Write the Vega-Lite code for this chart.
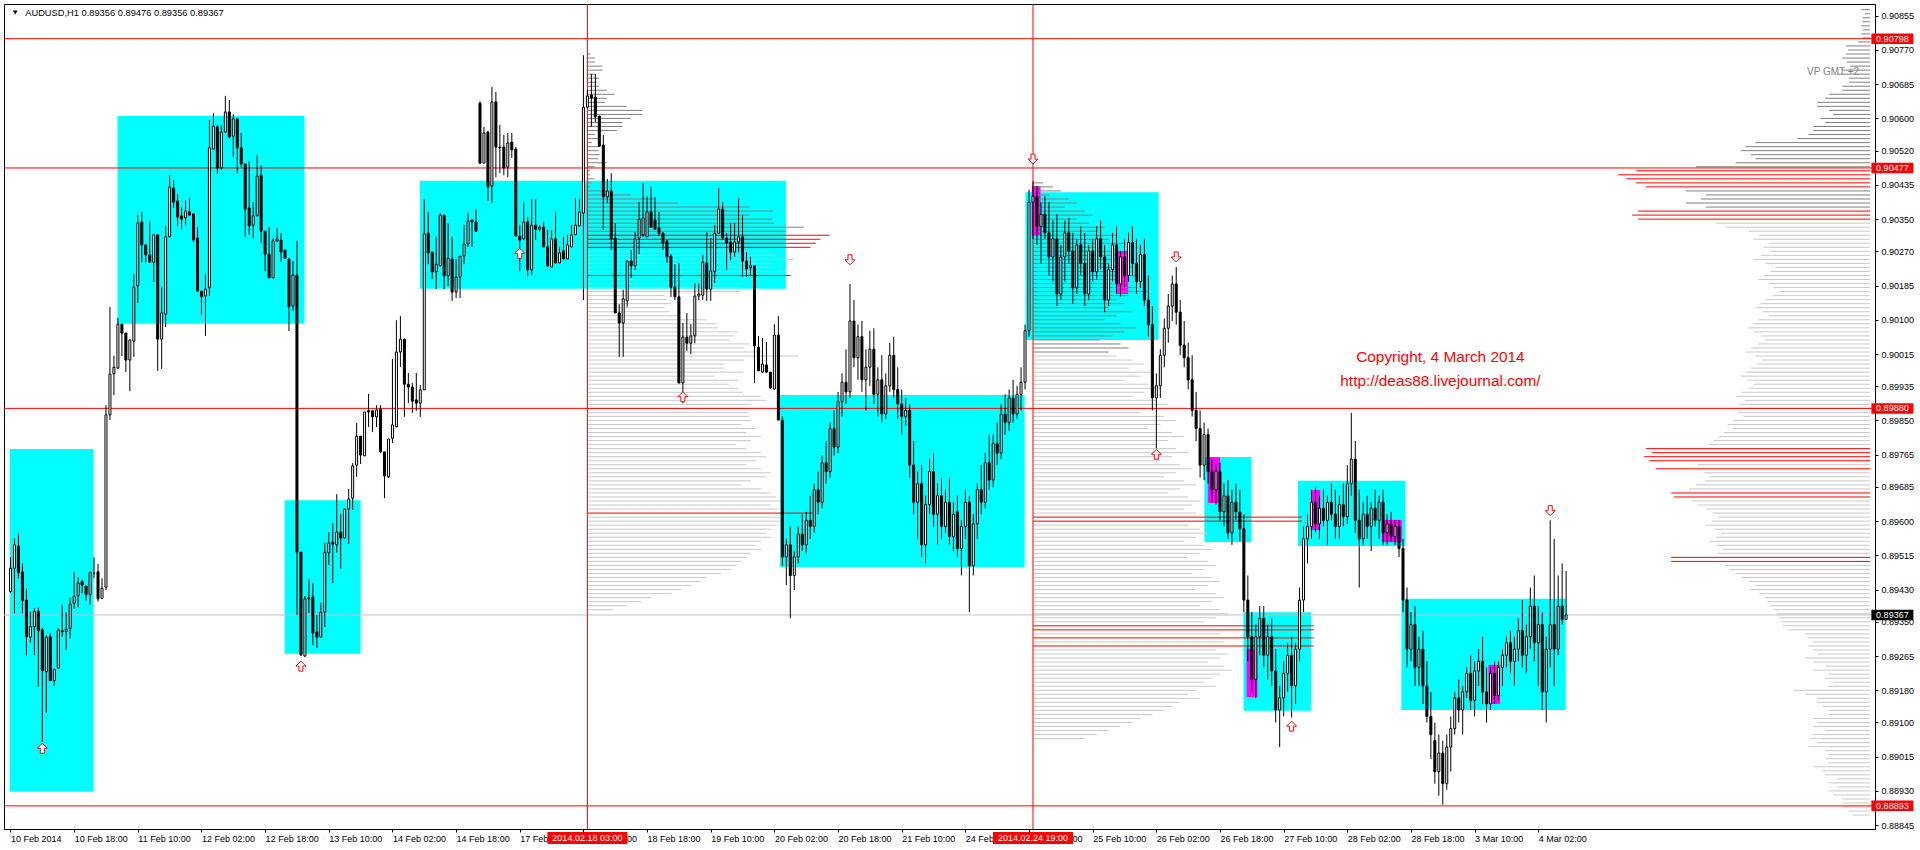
{
"$schema": "https://vega.github.io/schema/vega-lite/v6.json",
"width": 1871, "height": 825,
"autosize": {"type": "none"},
"padding": {"left": 4, "top": 4, "right": 45, "bottom": 21},
"background": "#ffffff",
"resolve": {"axis": {"x": "independent", "y": "independent"}},
"config": {
  "view": {"stroke": "#000000", "strokeWidth": 1},
  "axis": {"grid": false, "labelFont": "Liberation Sans", "labelFontSize": 9, "labelColor": "#000000", "domainColor": "#000000", "tickColor": "#000000", "tickSize": 3, "domainWidth": 1, "tickWidth": 1},
  "text": {"font": "Liberation Sans"}
},
"datasets": {
"boxes": [
{"x1":-0.2,"x2":20.9,"p1":0.89779,"p2":0.88928,"c":"#00FFFF"},
{"x1":26.9,"x2":73.9,"p1":0.90606,"p2":0.9009,"c":"#00FFFF"},
{"x1":68.9,"x2":88.0,"p1":0.89652,"p2":0.89271,"c":"#00FFFF"},
{"x1":102.9,"x2":194.9,"p1":0.90445,"p2":0.90177,"c":"#00FFFF"},
{"x1":193.4,"x2":254.9,"p1":0.89913,"p2":0.89486,"c":"#00FFFF"},
{"x1":255.1,"x2":288.6,"p1":0.90417,"p2":0.9005,"c":"#00FFFF"},
{"x1":300.1,"x2":311.9,"p1":0.89759,"p2":0.89548,"c":"#00FFFF"},
{"x1":323.6,"x2":350.6,"p1":0.897,"p2":0.89538,"c":"#00FFFF"},
{"x1":309.9,"x2":326.9,"p1":0.89374,"p2":0.89129,"c":"#00FFFF"},
{"x1":349.6,"x2":390.9,"p1":0.89407,"p2":0.89131,"c":"#00FFFF"},
{"x1":256.7,"x2":258.9,"p1":0.90432,"p2":0.9031,"c":"#FF00FF"},
{"x1":278.2,"x2":280.9,"p1":0.90271,"p2":0.90164,"c":"#FF00FF"},
{"x1":301.0,"x2":304.0,"p1":0.89759,"p2":0.89645,"c":"#FF00FF"},
{"x1":327.0,"x2":329.2,"p1":0.89677,"p2":0.89578,"c":"#FF00FF"},
{"x1":344.7,"x2":349.7,"p1":0.89603,"p2":0.89548,"c":"#FF00FF"},
{"x1":310.7,"x2":313.4,"p1":0.89283,"p2":0.89163,"c":"#FF00FF"},
{"x1":371.5,"x2":374.4,"p1":0.89243,"p2":0.89146,"c":"#FF00FF"}
],
"vp1": [
{"p":0.9076,"e":145.8,"k":"d"},{"p":0.9075,"e":146.9,"k":"d"},{"p":0.9074,"e":146.9,"k":"d"},{"p":0.9073,"e":148.8,"k":"d"},{"p":0.9072,"e":148.8,"k":"d"},
{"p":0.9071,"e":146.9,"k":"d"},{"p":0.907,"e":147.9,"k":"d"},{"p":0.9069,"e":147.4,"k":"d"},{"p":0.9068,"e":147.9,"k":"d"},{"p":0.9067,"e":149.9,"k":"d"},
{"p":0.9066,"e":151.8,"k":"d"},{"p":0.9065,"e":149.9,"k":"d"},{"p":0.9064,"e":149.4,"k":"d"},{"p":0.9063,"e":154.9,"k":"d"},{"p":0.9062,"e":158.8,"k":"d"},
{"p":0.9061,"e":158.8,"k":"d"},{"p":0.906,"e":155.9,"k":"d"},{"p":0.9059,"e":153.8,"k":"d"},{"p":0.9058,"e":153.8,"k":"d"},{"p":0.9057,"e":152.4,"k":"d"},
{"p":0.9056,"e":146.9,"k":"d"},{"p":0.9055,"e":147.8,"k":"d"},{"p":0.9054,"e":146.1,"k":"d"},{"p":0.9053,"e":148.1,"k":"d"},{"p":0.9052,"e":147.8,"k":"d"},
{"p":0.9051,"e":148.1,"k":"d"},{"p":0.905,"e":147.8,"k":"d"},{"p":0.9049,"e":149.9,"k":"d"},{"p":0.9048,"e":146.8,"k":"d"},{"p":0.9047,"e":145.7,"k":"d"},
{"p":0.9046,"e":145.7,"k":"d"},{"p":0.9045,"e":146.8,"k":"d"},{"p":0.9044,"e":146.1,"k":"d"},{"p":0.9043,"e":145.7,"k":"d"},{"p":0.9042,"e":149.9,"k":"d"},
{"p":0.9041,"e":155.9,"k":"d"},{"p":0.904,"e":161.8,"k":"d"},{"p":0.9039,"e":167.8,"k":"d"},{"p":0.9038,"e":185.7,"k":"d"},{"p":0.9037,"e":191.6,"k":"d"},
{"p":0.9036,"e":185.7,"k":"d"},{"p":0.9035,"e":191.6,"k":"d"},{"p":0.9034,"e":191.8,"k":"d"},{"p":0.9033,"e":199.4,"k":"d"},{"p":0.9032,"e":194.9,"k":"d"},
{"p":0.9031,"e":205.9,"k":"r"},{"p":0.903,"e":203.6,"k":"r"},{"p":0.9029,"e":202.4,"k":"r"},{"p":0.9028,"e":201.1,"k":"r"},{"p":0.9027,"e":190.6,"k":"l"},
{"p":0.9026,"e":192.8,"k":"l"},{"p":0.9025,"e":196.9,"k":"l"},{"p":0.9024,"e":191.9,"k":"l"},{"p":0.9023,"e":193.6,"k":"l"},{"p":0.9022,"e":194.9,"k":"l"},
{"p":0.9021,"e":196.1,"k":"r"},{"p":0.902,"e":194.9,"k":"l"},{"p":0.9019,"e":183.6,"k":"l"},{"p":0.9018,"e":183.6,"k":"l"},{"p":0.9017,"e":183.6,"k":"l"},
{"p":0.9016,"e":164.4,"k":"l"},{"p":0.9015,"e":164.9,"k":"l"},{"p":0.9014,"e":166.1,"k":"l"},{"p":0.9013,"e":164.4,"k":"l"},{"p":0.9012,"e":165.6,"k":"l"},
{"p":0.9011,"e":167.8,"k":"l"},{"p":0.901,"e":174.9,"k":"l"},{"p":0.9009,"e":177.4,"k":"l"},{"p":0.9008,"e":177.8,"k":"l"},{"p":0.9007,"e":182.8,"k":"l"},
{"p":0.9006,"e":181.9,"k":"l"},{"p":0.9005,"e":180.6,"k":"l"},{"p":0.9004,"e":185.7,"k":"l"},{"p":0.9003,"e":184.4,"k":"l"},{"p":0.9002,"e":188.6,"k":"l"},
{"p":0.9001,"e":198.1,"k":"l"},{"p":0.9,"e":184.4,"k":"l"},{"p":0.8999,"e":179.4,"k":"l"},{"p":0.8998,"e":179.4,"k":"l"},{"p":0.8997,"e":184.1,"k":"l"},
{"p":0.8996,"e":176.9,"k":"l"},{"p":0.8995,"e":182.9,"k":"l"},{"p":0.8994,"e":180.6,"k":"l"},{"p":0.8993,"e":182.9,"k":"l"},{"p":0.8992,"e":184.1,"k":"l"},
{"p":0.8991,"e":188.6,"k":"l"},{"p":0.899,"e":189.9,"k":"l"},{"p":0.8989,"e":186.1,"k":"l"},{"p":0.8988,"e":184.9,"k":"l"},{"p":0.8987,"e":185.6,"k":"l"},
{"p":0.8986,"e":185.6,"k":"l"},{"p":0.8985,"e":186.1,"k":"l"},{"p":0.8984,"e":183.6,"k":"l"},{"p":0.8983,"e":187.4,"k":"l"},{"p":0.8982,"e":184.9,"k":"l"},
{"p":0.8981,"e":188.6,"k":"l"},{"p":0.898,"e":186.1,"k":"l"},{"p":0.8979,"e":182.4,"k":"l"},{"p":0.8978,"e":184.9,"k":"l"},{"p":0.8977,"e":188.6,"k":"l"},
{"p":0.8976,"e":189.9,"k":"l"},{"p":0.8975,"e":187.4,"k":"l"},{"p":0.8974,"e":184.9,"k":"l"},{"p":0.8973,"e":188.6,"k":"l"},{"p":0.8972,"e":191.1,"k":"l"},
{"p":0.8971,"e":189.9,"k":"l"},{"p":0.897,"e":186.1,"k":"l"},{"p":0.8969,"e":183.6,"k":"l"},{"p":0.8968,"e":188.6,"k":"l"},{"p":0.8967,"e":191.1,"k":"l"},
{"p":0.8966,"e":192.4,"k":"l"},{"p":0.8965,"e":193.6,"k":"l"},{"p":0.8964,"e":191.1,"k":"l"},{"p":0.8963,"e":193.1,"k":"l"},{"p":0.8962,"e":201.6,"k":"r"},
{"p":0.8961,"e":194.6,"k":"l"},{"p":0.896,"e":193.6,"k":"l"},{"p":0.8959,"e":192.4,"k":"l"},{"p":0.8958,"e":191.1,"k":"l"},{"p":0.8957,"e":189.9,"k":"l"},
{"p":0.8956,"e":191.1,"k":"l"},{"p":0.8955,"e":188.6,"k":"l"},{"p":0.8954,"e":187.4,"k":"l"},{"p":0.8953,"e":188.6,"k":"l"},{"p":0.8952,"e":186.1,"k":"l"},
{"p":0.8951,"e":184.9,"k":"l"},{"p":0.895,"e":183.6,"k":"l"},{"p":0.8949,"e":182.4,"k":"l"},{"p":0.8948,"e":181.1,"k":"l"},{"p":0.8947,"e":178.6,"k":"l"},
{"p":0.8946,"e":174.9,"k":"l"},{"p":0.8945,"e":173.6,"k":"l"},{"p":0.8944,"e":171.1,"k":"l"},{"p":0.8943,"e":168.6,"k":"l"},{"p":0.8942,"e":166.1,"k":"l"},
{"p":0.8941,"e":161.1,"k":"l"},{"p":0.894,"e":158.6,"k":"l"},{"p":0.8939,"e":154.9,"k":"l"},{"p":0.8938,"e":151.6,"k":"l"}
],
"vp2": [
{"p":0.9044,"e":259.5,"k":"d"},{"p":0.9043,"e":262,"k":"d"},{"p":0.9042,"e":264,"k":"d"},{"p":0.9041,"e":261,"k":"d"},{"p":0.904,"e":266,"k":"d"},
{"p":0.9039,"e":268,"k":"d"},{"p":0.9038,"e":265,"k":"d"},{"p":0.9037,"e":270,"k":"d"},{"p":0.9036,"e":272,"k":"d"},{"p":0.9035,"e":268,"k":"d"},
{"p":0.9034,"e":271,"k":"d"},{"p":0.9033,"e":275,"k":"d"},{"p":0.9032,"e":273,"k":"d"},{"p":0.9031,"e":278,"k":"d"},{"p":0.903,"e":276,"k":"d"},
{"p":0.9029,"e":280,"k":"d"},{"p":0.9028,"e":274,"k":"d"},{"p":0.9027,"e":277,"k":"d"},{"p":0.9026,"e":281,"k":"d"},{"p":0.9025,"e":279,"k":"d"},
{"p":0.9024,"e":276,"k":"d"},{"p":0.9023,"e":282,"k":"d"},{"p":0.9022,"e":279,"k":"d"},{"p":0.9021,"e":284,"k":"d"},{"p":0.902,"e":280,"k":"d"},
{"p":0.9019,"e":277,"k":"d"},{"p":0.9018,"e":283,"k":"d"},{"p":0.9017,"e":286,"k":"d"},{"p":0.9016,"e":281,"k":"d"},{"p":0.9015,"e":278,"k":"d"},
{"p":0.9014,"e":280,"k":"d"},{"p":0.9013,"e":276,"k":"d"},{"p":0.9012,"e":282,"k":"d"},{"p":0.9011,"e":278,"k":"d"},{"p":0.901,"e":275,"k":"d"},
{"p":0.9009,"e":279,"k":"d"},{"p":0.9008,"e":283,"k":"d"},{"p":0.9007,"e":280,"k":"d"},{"p":0.9006,"e":277,"k":"d"},{"p":0.9005,"e":274,"k":"d"},
{"p":0.9004,"e":279,"k":"d"},{"p":0.9003,"e":281,"k":"d"},{"p":0.9002,"e":276,"k":"d"},{"p":0.9001,"e":278,"k":"l"},{"p":0.9,"e":282,"k":"l"},
{"p":0.8999,"e":285,"k":"l"},{"p":0.8998,"e":281,"k":"l"},{"p":0.8997,"e":287,"k":"l"},{"p":0.8996,"e":284,"k":"l"},{"p":0.8995,"e":280,"k":"l"},
{"p":0.8994,"e":286,"k":"l"},{"p":0.8993,"e":289,"k":"l"},{"p":0.8992,"e":285,"k":"l"},{"p":0.8991,"e":282,"k":"l"},{"p":0.899,"e":288,"k":"l"},
{"p":0.8989,"e":291,"k":"l"},{"p":0.8988,"e":287,"k":"l"},{"p":0.8987,"e":284,"k":"l"},{"p":0.8986,"e":290,"k":"l"},{"p":0.8985,"e":293,"k":"l"},
{"p":0.8984,"e":289,"k":"l"},{"p":0.8983,"e":286,"k":"l"},{"p":0.8982,"e":292,"k":"l"},{"p":0.8981,"e":295,"k":"l"},{"p":0.898,"e":291,"k":"l"},
{"p":0.8979,"e":288,"k":"l"},{"p":0.8978,"e":293,"k":"l"},{"p":0.8977,"e":296,"k":"l"},{"p":0.8976,"e":292,"k":"l"},{"p":0.8975,"e":289,"k":"l"},
{"p":0.8974,"e":294,"k":"l"},{"p":0.8973,"e":297,"k":"l"},{"p":0.8972,"e":293,"k":"l"},{"p":0.8971,"e":290,"k":"l"},{"p":0.897,"e":295,"k":"l"},
{"p":0.8969,"e":298,"k":"l"},{"p":0.8968,"e":294,"k":"l"},{"p":0.8967,"e":291,"k":"l"},{"p":0.8966,"e":296,"k":"l"},{"p":0.8965,"e":299,"k":"l"},
{"p":0.8964,"e":297,"k":"l"},{"p":0.8963,"e":295,"k":"l"},{"p":0.8962,"e":298,"k":"l"},{"p":0.8961,"e":324.6,"k":"r"},{"p":0.896,"e":324.6,"k":"r"},
{"p":0.8959,"e":296,"k":"l"},{"p":0.8958,"e":299,"k":"l"},{"p":0.8957,"e":301,"k":"l"},{"p":0.8956,"e":298,"k":"l"},{"p":0.8955,"e":295,"k":"l"},
{"p":0.8954,"e":300,"k":"l"},{"p":0.8953,"e":302,"k":"l"},{"p":0.8952,"e":299,"k":"l"},{"p":0.8951,"e":296,"k":"l"},{"p":0.895,"e":301,"k":"l"},
{"p":0.8949,"e":303,"k":"l"},{"p":0.8948,"e":300,"k":"l"},{"p":0.8947,"e":297,"k":"l"},{"p":0.8946,"e":302,"k":"l"},{"p":0.8945,"e":304,"k":"l"},
{"p":0.8944,"e":301,"k":"l"},{"p":0.8943,"e":298,"k":"l"},{"p":0.8942,"e":303,"k":"l"},{"p":0.8941,"e":305,"k":"l"},{"p":0.894,"e":302,"k":"l"},
{"p":0.8939,"e":299,"k":"l"},{"p":0.8938,"e":304,"k":"l"},{"p":0.8937,"e":306,"k":"l"},{"p":0.8936,"e":303,"k":"l"},{"p":0.8935,"e":300,"k":"l"},
{"p":0.8934,"e":327.6,"k":"r"},{"p":0.8933,"e":327.6,"k":"r"},{"p":0.8932,"e":304,"k":"l"},{"p":0.8931,"e":327.6,"k":"r"},{"p":0.893,"e":305,"k":"l"},
{"p":0.8929,"e":327.6,"k":"r"},{"p":0.8928,"e":303,"k":"l"},{"p":0.8927,"e":306,"k":"l"},{"p":0.8926,"e":304,"k":"l"},{"p":0.8925,"e":301,"k":"l"},
{"p":0.8924,"e":305,"k":"l"},{"p":0.8923,"e":307,"k":"l"},{"p":0.8922,"e":304,"k":"l"},{"p":0.8921,"e":302,"k":"l"},{"p":0.892,"e":300,"k":"l"},
{"p":0.8919,"e":303,"k":"l"},{"p":0.8918,"e":298,"k":"l"},{"p":0.8917,"e":296,"k":"l"},{"p":0.8916,"e":299,"k":"l"},{"p":0.8915,"e":294,"k":"l"},
{"p":0.8914,"e":292,"k":"l"},{"p":0.8913,"e":290,"k":"l"},{"p":0.8912,"e":287,"k":"l"},{"p":0.8911,"e":284,"k":"l"},{"p":0.891,"e":282,"k":"l"},
{"p":0.8909,"e":279,"k":"l"},{"p":0.8908,"e":276,"k":"l"},{"p":0.8907,"e":273,"k":"l"},{"p":0.8906,"e":270,"k":"l"}
],
"vp3": [
{"p":0.9087,"e":465.1,"k":"d"},{"p":0.9086,"e":466.1,"k":"d"},{"p":0.9085,"e":465.6,"k":"d"},{"p":0.9084,"e":465.4,"k":"d"},{"p":0.9083,"e":465.1,"k":"d"},
{"p":0.9082,"e":465.6,"k":"d"},{"p":0.9081,"e":465.1,"k":"d"},{"p":0.908,"e":465.6,"k":"d"},{"p":0.9079,"e":464.4,"k":"d"},{"p":0.9078,"e":461.4,"k":"d"},
{"p":0.9077,"e":461.9,"k":"d"},{"p":0.9076,"e":461.4,"k":"d"},{"p":0.9075,"e":460.4,"k":"d"},{"p":0.9074,"e":461.6,"k":"d"},{"p":0.9073,"e":462.4,"k":"d"},
{"p":0.9072,"e":460.4,"k":"d"},{"p":0.9071,"e":459.1,"k":"d"},{"p":0.907,"e":462.1,"k":"d"},{"p":0.9069,"e":462.1,"k":"d"},{"p":0.9068,"e":460.4,"k":"d"},
{"p":0.9067,"e":460.4,"k":"d"},{"p":0.9066,"e":457.1,"k":"d"},{"p":0.9065,"e":456.1,"k":"d"},{"p":0.9064,"e":454.1,"k":"d"},{"p":0.9063,"e":454.1,"k":"d"},
{"p":0.9062,"e":457.1,"k":"d"},{"p":0.9061,"e":458.1,"k":"d"},{"p":0.906,"e":454.9,"k":"d"},{"p":0.9059,"e":456.1,"k":"d"},{"p":0.9058,"e":453.1,"k":"d"},
{"p":0.9057,"e":453.1,"k":"d"},{"p":0.9056,"e":451.9,"k":"d"},{"p":0.9055,"e":449.1,"k":"d"},{"p":0.9054,"e":438.6,"k":"d"},{"p":0.9053,"e":436.1,"k":"d"},
{"p":0.9052,"e":434.9,"k":"d"},{"p":0.9051,"e":437.4,"k":"d"},{"p":0.905,"e":438.6,"k":"d"},{"p":0.9049,"e":433.6,"k":"d"},{"p":0.9048,"e":423.6,"k":"d"},
{"p":0.9047,"e":408.6,"k":"r"},{"p":0.9046,"e":404.1,"k":"r"},{"p":0.9045,"e":406.1,"k":"r"},{"p":0.9044,"e":408.6,"k":"r"},{"p":0.9043,"e":411.1,"k":"r"},
{"p":0.9042,"e":421.1,"k":"d"},{"p":0.9041,"e":426.1,"k":"d"},{"p":0.904,"e":424.9,"k":"d"},{"p":0.9039,"e":421.1,"k":"d"},{"p":0.9038,"e":426.1,"k":"d"},
{"p":0.9037,"e":409.1,"k":"r"},{"p":0.9036,"e":407.6,"k":"r"},{"p":0.9035,"e":409.1,"k":"r"},{"p":0.9034,"e":428.6,"k":"l"},{"p":0.9033,"e":431.1,"k":"l"},
{"p":0.9032,"e":436.9,"k":"l"},{"p":0.9031,"e":439.4,"k":"l"},{"p":0.903,"e":438.1,"k":"l"},{"p":0.9029,"e":441.9,"k":"l"},{"p":0.9028,"e":440.6,"k":"l"},
{"p":0.9027,"e":442.4,"k":"l"},{"p":0.9026,"e":439.9,"k":"l"},{"p":0.9025,"e":438.1,"k":"l"},{"p":0.9024,"e":441.1,"k":"l"},{"p":0.9023,"e":443.6,"k":"l"},
{"p":0.9022,"e":442.4,"k":"l"},{"p":0.9021,"e":440.6,"k":"l"},{"p":0.902,"e":439.4,"k":"l"},{"p":0.9019,"e":441.9,"k":"l"},{"p":0.9018,"e":443.1,"k":"l"},
{"p":0.9017,"e":444.4,"k":"l"},{"p":0.9016,"e":442.9,"k":"l"},{"p":0.9015,"e":441.1,"k":"l"},{"p":0.9014,"e":439.9,"k":"l"},{"p":0.9013,"e":438.6,"k":"l"},
{"p":0.9012,"e":440.4,"k":"l"},{"p":0.9011,"e":441.9,"k":"l"},{"p":0.901,"e":439.4,"k":"l"},{"p":0.9009,"e":437.9,"k":"l"},{"p":0.9008,"e":436.6,"k":"l"},
{"p":0.9007,"e":438.1,"k":"l"},{"p":0.9006,"e":439.9,"k":"l"},{"p":0.9005,"e":441.1,"k":"l"},{"p":0.9004,"e":439.4,"k":"l"},{"p":0.9003,"e":437.6,"k":"l"},
{"p":0.9002,"e":436.1,"k":"l"},{"p":0.9001,"e":438.6,"k":"l"},{"p":0.9,"e":440.1,"k":"l"},{"p":0.8999,"e":438.9,"k":"l"},{"p":0.8998,"e":437.4,"k":"l"},
{"p":0.8997,"e":436.1,"k":"l"},{"p":0.8996,"e":434.9,"k":"l"},{"p":0.8995,"e":436.6,"k":"l"},{"p":0.8994,"e":438.1,"k":"l"},{"p":0.8993,"e":436.9,"k":"l"},
{"p":0.8992,"e":435.1,"k":"l"},{"p":0.8991,"e":433.6,"k":"l"},{"p":0.899,"e":435.9,"k":"l"},{"p":0.8989,"e":434.4,"k":"l"},{"p":0.8988,"e":432.9,"k":"l"},
{"p":0.8987,"e":434.1,"k":"l"},{"p":0.8986,"e":435.6,"k":"l"},{"p":0.8985,"e":433.1,"k":"l"},{"p":0.8984,"e":431.6,"k":"l"},{"p":0.8983,"e":432.9,"k":"l"},
{"p":0.8982,"e":430.6,"k":"l"},{"p":0.8981,"e":429.4,"k":"l"},{"p":0.898,"e":428.1,"k":"l"},{"p":0.8979,"e":426.9,"k":"l"},{"p":0.8978,"e":411.1,"k":"r"},
{"p":0.8977,"e":412.6,"k":"r"},{"p":0.8976,"e":410.6,"k":"r"},{"p":0.8975,"e":411.9,"k":"r"},{"p":0.8974,"e":424.1,"k":"l"},{"p":0.8973,"e":413.6,"k":"r"},
{"p":0.8972,"e":425.6,"k":"l"},{"p":0.8971,"e":427.1,"k":"l"},{"p":0.897,"e":425.9,"k":"l"},{"p":0.8969,"e":423.6,"k":"l"},{"p":0.8968,"e":421.9,"k":"l"},
{"p":0.8967,"e":417.4,"k":"r"},{"p":0.8966,"e":418.1,"k":"r"},{"p":0.8965,"e":422.6,"k":"l"},{"p":0.8964,"e":424.1,"k":"l"},{"p":0.8963,"e":426.4,"k":"l"},
{"p":0.8962,"e":427.9,"k":"l"},{"p":0.8961,"e":429.1,"k":"l"},{"p":0.896,"e":427.6,"k":"l"},{"p":0.8959,"e":426.1,"k":"l"},{"p":0.8958,"e":428.4,"k":"l"},
{"p":0.8957,"e":429.9,"k":"l"},{"p":0.8956,"e":428.6,"k":"l"},{"p":0.8955,"e":427.1,"k":"l"},{"p":0.8954,"e":428.9,"k":"l"},{"p":0.8953,"e":430.4,"k":"l"},
{"p":0.8952,"e":429.1,"k":"l"},{"p":0.8951,"e":417.4,"k":"r"},{"p":0.895,"e":417.4,"k":"r"},{"p":0.8949,"e":430.9,"k":"l"},{"p":0.8948,"e":432.1,"k":"l"},
{"p":0.8947,"e":433.6,"k":"l"},{"p":0.8946,"e":435.1,"k":"l"},{"p":0.8945,"e":436.9,"k":"l"},{"p":0.8944,"e":438.6,"k":"l"},{"p":0.8943,"e":437.1,"k":"l"},
{"p":0.8942,"e":439.6,"k":"l"},{"p":0.8941,"e":440.9,"k":"l"},{"p":0.894,"e":441.6,"k":"l"},{"p":0.8939,"e":442.4,"k":"l"},{"p":0.8938,"e":443.1,"k":"l"},
{"p":0.8937,"e":443.9,"k":"l"},{"p":0.8936,"e":444.6,"k":"l"},{"p":0.8935,"e":445.1,"k":"l"},{"p":0.8934,"e":445.6,"k":"l"},{"p":0.8933,"e":446.9,"k":"l"},
{"p":0.8932,"e":451.1,"k":"l"},{"p":0.8931,"e":451.9,"k":"l"},{"p":0.893,"e":453.1,"k":"l"},{"p":0.8929,"e":451.9,"k":"l"},{"p":0.8928,"e":453.1,"k":"l"},
{"p":0.8927,"e":454.1,"k":"l"},{"p":0.8926,"e":451.1,"k":"l"},{"p":0.8925,"e":453.1,"k":"l"},{"p":0.8924,"e":456.1,"k":"l"},{"p":0.8923,"e":453.1,"k":"l"},
{"p":0.8922,"e":456.9,"k":"l"},{"p":0.8921,"e":456.1,"k":"l"},{"p":0.892,"e":458.1,"k":"l"},{"p":0.8919,"e":456.9,"k":"l"},{"p":0.8918,"e":448.1,"k":"l"},
{"p":0.8917,"e":451.1,"k":"l"},{"p":0.8916,"e":454.1,"k":"l"},{"p":0.8915,"e":454.1,"k":"l"},{"p":0.8914,"e":455.4,"k":"l"},{"p":0.8913,"e":456.9,"k":"l"},
{"p":0.8912,"e":456.9,"k":"l"},{"p":0.8911,"e":453.1,"k":"l"},{"p":0.891,"e":454.1,"k":"l"},{"p":0.8909,"e":453.1,"k":"l"},{"p":0.8908,"e":456.1,"k":"l"},
{"p":0.8907,"e":453.1,"k":"l"},{"p":0.8906,"e":452.4,"k":"l"},{"p":0.8905,"e":454.1,"k":"l"},{"p":0.8904,"e":451.9,"k":"l"},{"p":0.8903,"e":456.1,"k":"l"},
{"p":0.8902,"e":456.9,"k":"l"},{"p":0.8901,"e":456.1,"k":"l"},{"p":0.89,"e":456.9,"k":"l"},{"p":0.8899,"e":453.1,"k":"l"},{"p":0.8898,"e":455.4,"k":"l"},
{"p":0.8897,"e":456.1,"k":"l"},{"p":0.8896,"e":459.1,"k":"l"},{"p":0.8895,"e":456.9,"k":"l"},{"p":0.8894,"e":459.1,"k":"l"},{"p":0.8893,"e":456.9,"k":"l"},
{"p":0.8892,"e":458.1,"k":"l"},{"p":0.8891,"e":460.4,"k":"l"},{"p":0.889,"e":460.4,"k":"l"},{"p":0.8889,"e":460.4,"k":"l"},{"p":0.8888,"e":462.0,"k":"l"},
{"p":0.8887,"e":463.1,"k":"l"}
],
"hlines": [
{"p":0.90798,"c":"#FF0000"},{"p":0.90477,"c":"#FF0000"},{"p":0.8988,"c":"#FF0000"},{"p":0.88893,"c":"#FF0000"},{"p":0.89367,"c":"#C0C0C0"}
],
"vlines": [{"i":145},{"i":257}],
"candles": [
{"i":0,"o":0.89425,"h":0.89511,"l":0.89421,"c":0.89483},
{"i":1,"o":0.89483,"h":0.89557,"l":0.89371,"c":0.89541},
{"i":2,"o":0.89538,"h":0.8957,"l":0.89458,"c":0.89472},
{"i":3,"o":0.89474,"h":0.89495,"l":0.89371,"c":0.89402},
{"i":4,"o":0.89404,"h":0.89433,"l":0.89266,"c":0.89313},
{"i":5,"o":0.89312,"h":0.89375,"l":0.89298,"c":0.89338},
{"i":6,"o":0.89338,"h":0.89384,"l":0.89268,"c":0.89376},
{"i":7,"o":0.89376,"h":0.89386,"l":0.89189,"c":0.89328},
{"i":8,"o":0.8933,"h":0.89335,"l":0.89052,"c":0.89229},
{"i":9,"o":0.89226,"h":0.89317,"l":0.89124,"c":0.89312},
{"i":10,"o":0.89313,"h":0.89322,"l":0.89204,"c":0.89204},
{"i":11,"o":0.89204,"h":0.89232,"l":0.89191,"c":0.89232},
{"i":12,"o":0.89235,"h":0.89334,"l":0.89235,"c":0.8933},
{"i":13,"o":0.89328,"h":0.89392,"l":0.89313,"c":0.89325},
{"i":14,"o":0.89326,"h":0.89374,"l":0.8928,"c":0.89332},
{"i":15,"o":0.89334,"h":0.8941,"l":0.89309,"c":0.89394},
{"i":16,"o":0.89396,"h":0.89474,"l":0.89382,"c":0.89413},
{"i":17,"o":0.89415,"h":0.89461,"l":0.89386,"c":0.89446},
{"i":18,"o":0.8945,"h":0.89454,"l":0.89421,"c":0.89441},
{"i":19,"o":0.89439,"h":0.89439,"l":0.89402,"c":0.89418},
{"i":20,"o":0.89418,"h":0.89473,"l":0.89392,"c":0.89473},
{"i":21,"o":0.89472,"h":0.8951,"l":0.89458,"c":0.89472},
{"i":22,"o":0.89474,"h":0.89494,"l":0.894,"c":0.89407},
{"i":23,"o":0.89408,"h":0.89458,"l":0.89408,"c":0.89433},
{"i":24,"o":0.89436,"h":0.89888,"l":0.89429,"c":0.89864},
{"i":25,"o":0.89864,"h":0.90132,"l":0.89851,"c":0.89965},
{"i":26,"o":0.89966,"h":0.90011,"l":0.89913,"c":0.89982},
{"i":27,"o":0.8998,"h":0.90104,"l":0.89978,"c":0.90089},
{"i":28,"o":0.90089,"h":0.90089,"l":0.9001,"c":0.90067},
{"i":29,"o":0.90067,"h":0.90067,"l":0.8997,"c":0.9},
{"i":30,"o":0.9,"h":0.9005,"l":0.89923,"c":0.9005},
{"i":31,"o":0.90047,"h":0.90214,"l":0.90008,"c":0.90181},
{"i":32,"o":0.90184,"h":0.9036,"l":0.90142,"c":0.9034},
{"i":33,"o":0.90343,"h":0.90368,"l":0.90243,"c":0.90286},
{"i":34,"o":0.90286,"h":0.90286,"l":0.90243,"c":0.90261},
{"i":35,"o":0.90261,"h":0.90345,"l":0.90243,"c":0.90243},
{"i":36,"o":0.90243,"h":0.90311,"l":0.90194,"c":0.90311},
{"i":37,"o":0.90311,"h":0.90311,"l":0.89973,"c":0.90052},
{"i":38,"o":0.90052,"h":0.90181,"l":0.89978,"c":0.90117},
{"i":39,"o":0.90114,"h":0.90333,"l":0.90082,"c":0.90306},
{"i":40,"o":0.90306,"h":0.90459,"l":0.90306,"c":0.9043},
{"i":41,"o":0.90427,"h":0.90447,"l":0.90378,"c":0.90392},
{"i":42,"o":0.90395,"h":0.90412,"l":0.90333,"c":0.90355},
{"i":43,"o":0.90358,"h":0.9038,"l":0.90325,"c":0.9035},
{"i":44,"o":0.90353,"h":0.90397,"l":0.90335,"c":0.9037},
{"i":45,"o":0.90368,"h":0.90402,"l":0.9036,"c":0.9036},
{"i":46,"o":0.90363,"h":0.90363,"l":0.90293,"c":0.90298},
{"i":47,"o":0.90303,"h":0.9033,"l":0.90171,"c":0.90171},
{"i":48,"o":0.90171,"h":0.90171,"l":0.90112,"c":0.90157},
{"i":49,"o":0.90159,"h":0.90214,"l":0.9006,"c":0.90176},
{"i":50,"o":0.90179,"h":0.90596,"l":0.90159,"c":0.90527},
{"i":51,"o":0.90524,"h":0.90613,"l":0.90522,"c":0.90581},
{"i":52,"o":0.90579,"h":0.90584,"l":0.90462,"c":0.90477},
{"i":53,"o":0.90477,"h":0.90584,"l":0.90472,"c":0.90566},
{"i":54,"o":0.90566,"h":0.90656,"l":0.90566,"c":0.90616},
{"i":55,"o":0.90616,"h":0.90646,"l":0.90551,"c":0.90554},
{"i":56,"o":0.90556,"h":0.90611,"l":0.90504,"c":0.90599},
{"i":57,"o":0.90599,"h":0.90599,"l":0.90464,"c":0.90527},
{"i":58,"o":0.90527,"h":0.90564,"l":0.90479,"c":0.90487},
{"i":59,"o":0.90487,"h":0.90487,"l":0.90306,"c":0.90375},
{"i":60,"o":0.90378,"h":0.90494,"l":0.90311,"c":0.90333},
{"i":61,"o":0.90335,"h":0.90392,"l":0.90301,"c":0.90358},
{"i":62,"o":0.90358,"h":0.90509,"l":0.90358,"c":0.90457},
{"i":63,"o":0.90459,"h":0.90484,"l":0.90291,"c":0.9032},
{"i":64,"o":0.9032,"h":0.9032,"l":0.90221,"c":0.90263},
{"i":65,"o":0.90263,"h":0.9033,"l":0.90204,"c":0.90204},
{"i":66,"o":0.90204,"h":0.90303,"l":0.90204,"c":0.90296},
{"i":67,"o":0.90296,"h":0.90328,"l":0.90293,"c":0.90301},
{"i":68,"o":0.90298,"h":0.90315,"l":0.90243,"c":0.90268},
{"i":69,"o":0.90273,"h":0.90273,"l":0.90253,"c":0.90253},
{"i":70,"o":0.90251,"h":0.90251,"l":0.90072,"c":0.90132},
{"i":71,"o":0.90134,"h":0.90246,"l":0.90122,"c":0.90211},
{"i":72,"o":0.90211,"h":0.90296,"l":0.89367,"c":0.89523},
{"i":73,"o":0.89523,"h":0.89523,"l":0.89265,"c":0.89268},
{"i":74,"o":0.89265,"h":0.89414,"l":0.89263,"c":0.89407},
{"i":75,"o":0.89409,"h":0.89456,"l":0.89372,"c":0.89407},
{"i":76,"o":0.89412,"h":0.89446,"l":0.89292,"c":0.89322},
{"i":77,"o":0.89325,"h":0.89367,"l":0.89285,"c":0.89312},
{"i":78,"o":0.89312,"h":0.89397,"l":0.89312,"c":0.89374},
{"i":79,"o":0.89374,"h":0.89546,"l":0.89337,"c":0.89523},
{"i":80,"o":0.89521,"h":0.89573,"l":0.89491,"c":0.89546},
{"i":81,"o":0.89548,"h":0.89595,"l":0.89446,"c":0.89543},
{"i":82,"o":0.89541,"h":0.89667,"l":0.89521,"c":0.89573},
{"i":83,"o":0.89573,"h":0.89618,"l":0.89481,"c":0.89558},
{"i":84,"o":0.89558,"h":0.8963,"l":0.89558,"c":0.8963},
{"i":85,"o":0.8963,"h":0.8968,"l":0.89543,"c":0.89655},
{"i":86,"o":0.89657,"h":0.89744,"l":0.89628,"c":0.89737},
{"i":87,"o":0.89739,"h":0.89844,"l":0.8971,"c":0.89811},
{"i":88,"o":0.89811,"h":0.89811,"l":0.89742,"c":0.89764},
{"i":89,"o":0.89762,"h":0.89871,"l":0.89762,"c":0.89871},
{"i":90,"o":0.89874,"h":0.89916,"l":0.89834,"c":0.89871},
{"i":91,"o":0.89874,"h":0.89874,"l":0.89821,"c":0.89859},
{"i":92,"o":0.89859,"h":0.89888,"l":0.89834,"c":0.89876},
{"i":93,"o":0.89878,"h":0.89888,"l":0.89769,"c":0.89772},
{"i":94,"o":0.89772,"h":0.89772,"l":0.89657,"c":0.89712},
{"i":95,"o":0.8971,"h":0.89804,"l":0.89707,"c":0.89804},
{"i":96,"o":0.89806,"h":0.90003,"l":0.89794,"c":0.89839},
{"i":97,"o":0.89834,"h":0.90099,"l":0.89834,"c":0.9002},
{"i":98,"o":0.9002,"h":0.90109,"l":0.89983,"c":0.90052},
{"i":99,"o":0.90052,"h":0.90052,"l":0.89859,"c":0.8994},
{"i":100,"o":0.8994,"h":0.89968,"l":0.89893,"c":0.89933},
{"i":101,"o":0.89933,"h":0.89943,"l":0.89869,"c":0.89898},
{"i":102,"o":0.89901,"h":0.89968,"l":0.89874,"c":0.89893},
{"i":103,"o":0.89893,"h":0.89938,"l":0.89859,"c":0.89926},
{"i":104,"o":0.89926,"h":0.904,"l":0.89926,"c":0.90313},
{"i":105,"o":0.90315,"h":0.90368,"l":0.90238,"c":0.90266},
{"i":106,"o":0.90268,"h":0.90268,"l":0.90201,"c":0.90219},
{"i":107,"o":0.90219,"h":0.90306,"l":0.90176,"c":0.90238},
{"i":108,"o":0.90234,"h":0.90365,"l":0.90234,"c":0.9036},
{"i":109,"o":0.9036,"h":0.9036,"l":0.90176,"c":0.90209},
{"i":110,"o":0.90209,"h":0.9034,"l":0.90184,"c":0.90253},
{"i":111,"o":0.90251,"h":0.90306,"l":0.90147,"c":0.90169},
{"i":112,"o":0.90169,"h":0.90251,"l":0.90154,"c":0.90206},
{"i":113,"o":0.90206,"h":0.90258,"l":0.90154,"c":0.90258},
{"i":114,"o":0.90258,"h":0.90335,"l":0.90238,"c":0.90288},
{"i":115,"o":0.90288,"h":0.90365,"l":0.90281,"c":0.90345},
{"i":116,"o":0.90348,"h":0.90348,"l":0.90281,"c":0.90343},
{"i":117,"o":0.90343,"h":0.90375,"l":0.9032,"c":0.9032},
{"i":118,"o":0.90638,"h":0.90643,"l":0.90487,"c":0.90489},
{"i":119,"o":0.90489,"h":0.90579,"l":0.90489,"c":0.90564},
{"i":120,"o":0.90566,"h":0.90569,"l":0.90395,"c":0.9043},
{"i":121,"o":0.90432,"h":0.90678,"l":0.9039,"c":0.90641},
{"i":122,"o":0.90641,"h":0.90666,"l":0.90454,"c":0.90529},
{"i":123,"o":0.90529,"h":0.90584,"l":0.90464,"c":0.90527},
{"i":124,"o":0.90529,"h":0.90559,"l":0.90459,"c":0.90477},
{"i":125,"o":0.90479,"h":0.90564,"l":0.90454,"c":0.90539},
{"i":126,"o":0.90541,"h":0.90564,"l":0.90502,"c":0.90522},
{"i":127,"o":0.90524,"h":0.90529,"l":0.90308,"c":0.90308},
{"i":128,"o":0.90308,"h":0.90335,"l":0.90221,"c":0.90298},
{"i":129,"o":0.90301,"h":0.90392,"l":0.90298,"c":0.90343},
{"i":130,"o":0.90343,"h":0.90355,"l":0.90209,"c":0.90224},
{"i":131,"o":0.90224,"h":0.904,"l":0.90211,"c":0.90335},
{"i":132,"o":0.90335,"h":0.904,"l":0.90298,"c":0.90325},
{"i":133,"o":0.90325,"h":0.90335,"l":0.9032,"c":0.9033},
{"i":134,"o":0.9033,"h":0.90343,"l":0.90281,"c":0.90281},
{"i":135,"o":0.90281,"h":0.90323,"l":0.90231,"c":0.90234},
{"i":136,"o":0.90231,"h":0.90323,"l":0.90231,"c":0.90301},
{"i":137,"o":0.90301,"h":0.90368,"l":0.90241,"c":0.90241},
{"i":138,"o":0.90241,"h":0.90281,"l":0.90241,"c":0.90266},
{"i":139,"o":0.90271,"h":0.90306,"l":0.90251,"c":0.90251},
{"i":140,"o":0.90251,"h":0.90311,"l":0.90251,"c":0.90286},
{"i":141,"o":0.90281,"h":0.90335,"l":0.90281,"c":0.90311},
{"i":142,"o":0.90311,"h":0.90402,"l":0.90311,"c":0.90335},
{"i":143,"o":0.90333,"h":0.904,"l":0.90333,"c":0.90368},
{"i":144,"o":0.90365,"h":0.90757,"l":0.90149,"c":0.90628},
{"i":145,"o":0.90628,"h":0.90671,"l":0.90626,"c":0.90656},
{"i":146,"o":0.90658,"h":0.9071,"l":0.90579,"c":0.90651},
{"i":147,"o":0.90653,"h":0.9071,"l":0.90591,"c":0.90604},
{"i":148,"o":0.90606,"h":0.90606,"l":0.90531,"c":0.90531},
{"i":149,"o":0.90534,"h":0.90559,"l":0.90323,"c":0.90405},
{"i":150,"o":0.90405,"h":0.9045,"l":0.9039,"c":0.9042},
{"i":151,"o":0.9042,"h":0.90464,"l":0.90273,"c":0.90301},
{"i":152,"o":0.90303,"h":0.9034,"l":0.90117,"c":0.90117},
{"i":153,"o":0.90117,"h":0.90139,"l":0.90008,"c":0.90092},
{"i":154,"o":0.90092,"h":0.90174,"l":0.90008,"c":0.90152},
{"i":155,"o":0.90147,"h":0.90248,"l":0.90132,"c":0.90246},
{"i":156,"o":0.90246,"h":0.90273,"l":0.90204,"c":0.90234},
{"i":157,"o":0.90234,"h":0.90318,"l":0.90224,"c":0.90301},
{"i":158,"o":0.90303,"h":0.90392,"l":0.90263,"c":0.9035},
{"i":159,"o":0.90311,"h":0.9044,"l":0.90306,"c":0.90353},
{"i":160,"o":0.90306,"h":0.90407,"l":0.90306,"c":0.90368},
{"i":161,"o":0.90368,"h":0.9043,"l":0.9033,"c":0.9033},
{"i":162,"o":0.90348,"h":0.90405,"l":0.90323,"c":0.90325},
{"i":163,"o":0.90328,"h":0.90368,"l":0.90308,"c":0.90315},
{"i":164,"o":0.90315,"h":0.90318,"l":0.90273,"c":0.90291},
{"i":165,"o":0.90296,"h":0.90296,"l":0.90241,"c":0.90256},
{"i":166,"o":0.90258,"h":0.90263,"l":0.90157,"c":0.90181},
{"i":167,"o":0.90181,"h":0.90238,"l":0.90149,"c":0.90157},
{"i":168,"o":0.90157,"h":0.90241,"l":0.89943,"c":0.89943},
{"i":169,"o":0.89943,"h":0.90092,"l":0.89893,"c":0.90057},
{"i":170,"o":0.90057,"h":0.90117,"l":0.90023,"c":0.90042},
{"i":171,"o":0.90042,"h":0.90089,"l":0.90015,"c":0.9006},
{"i":172,"o":0.9006,"h":0.90191,"l":0.90042,"c":0.90159},
{"i":173,"o":0.90159,"h":0.90191,"l":0.90149,"c":0.90164},
{"i":174,"o":0.90161,"h":0.90261,"l":0.90149,"c":0.90243},
{"i":175,"o":0.90241,"h":0.90318,"l":0.90147,"c":0.90176},
{"i":176,"o":0.90176,"h":0.90303,"l":0.90147,"c":0.90221},
{"i":177,"o":0.90219,"h":0.90335,"l":0.90191,"c":0.90315},
{"i":178,"o":0.90315,"h":0.90427,"l":0.90313,"c":0.90375},
{"i":179,"o":0.90375,"h":0.90392,"l":0.90298,"c":0.90303},
{"i":180,"o":0.90303,"h":0.90315,"l":0.90224,"c":0.90291},
{"i":181,"o":0.90293,"h":0.9034,"l":0.90248,"c":0.90268},
{"i":182,"o":0.90268,"h":0.9034,"l":0.90256,"c":0.90293},
{"i":183,"o":0.90293,"h":0.90402,"l":0.90268,"c":0.90306},
{"i":184,"o":0.90306,"h":0.9036,"l":0.90206,"c":0.90246},
{"i":185,"o":0.90246,"h":0.90268,"l":0.90206,"c":0.90226},
{"i":186,"o":0.90229,"h":0.90256,"l":0.90211,"c":0.90234},
{"i":187,"o":0.90234,"h":0.90234,"l":0.89943,"c":0.90035},
{"i":188,"o":0.90032,"h":0.9006,"l":0.89973,"c":0.89973},
{"i":189,"o":0.8997,"h":0.90055,"l":0.89968,"c":0.8999},
{"i":190,"o":0.89988,"h":0.90045,"l":0.89968,"c":0.8997},
{"i":191,"o":0.8997,"h":0.8997,"l":0.89928,"c":0.89931},
{"i":192,"o":0.89928,"h":0.90089,"l":0.89926,"c":0.90062},
{"i":193,"o":0.90062,"h":0.90109,"l":0.89851,"c":0.89851},
{"i":194,"o":0.89851,"h":0.8986,"l":0.89489,"c":0.89511},
{"i":195,"o":0.89511,"h":0.89556,"l":0.89441,"c":0.89541},
{"i":196,"o":0.89541,"h":0.89587,"l":0.89359,"c":0.89465},
{"i":197,"o":0.89465,"h":0.89526,"l":0.89429,"c":0.89511},
{"i":198,"o":0.89511,"h":0.89587,"l":0.89495,"c":0.89568},
{"i":199,"o":0.89568,"h":0.89617,"l":0.89526,"c":0.89541},
{"i":200,"o":0.89541,"h":0.89623,"l":0.8952,"c":0.89602},
{"i":201,"o":0.89602,"h":0.89663,"l":0.89556,"c":0.89587},
{"i":202,"o":0.89587,"h":0.89693,"l":0.89571,"c":0.89678},
{"i":203,"o":0.89678,"h":0.89723,"l":0.89617,"c":0.89647},
{"i":204,"o":0.89647,"h":0.89763,"l":0.89632,"c":0.89745},
{"i":205,"o":0.89745,"h":0.89799,"l":0.89693,"c":0.89723},
{"i":206,"o":0.89723,"h":0.89845,"l":0.89708,"c":0.8983},
{"i":207,"o":0.8983,"h":0.89875,"l":0.89763,"c":0.89784},
{"i":208,"o":0.89784,"h":0.89921,"l":0.89769,"c":0.89897},
{"i":209,"o":0.89897,"h":0.89967,"l":0.8986,"c":0.89945},
{"i":210,"o":0.89945,"h":0.90027,"l":0.89891,"c":0.89921},
{"i":211,"o":0.89921,"h":0.90189,"l":0.89906,"c":0.90097},
{"i":212,"o":0.90097,"h":0.90149,"l":0.89982,"c":0.90006},
{"i":213,"o":0.90006,"h":0.90088,"l":0.89951,"c":0.90058},
{"i":214,"o":0.90058,"h":0.90097,"l":0.89921,"c":0.89951},
{"i":215,"o":0.89951,"h":0.90027,"l":0.89875,"c":0.89982},
{"i":216,"o":0.89982,"h":0.90073,"l":0.89936,"c":0.90027},
{"i":217,"o":0.90027,"h":0.90079,"l":0.89891,"c":0.89915},
{"i":218,"o":0.89915,"h":0.89982,"l":0.8986,"c":0.89951},
{"i":219,"o":0.89951,"h":0.90012,"l":0.89845,"c":0.89866},
{"i":220,"o":0.89866,"h":0.89967,"l":0.89854,"c":0.89936},
{"i":221,"o":0.89936,"h":0.90043,"l":0.89921,"c":0.90012},
{"i":222,"o":0.90012,"h":0.90058,"l":0.89906,"c":0.89927},
{"i":223,"o":0.89927,"h":0.89982,"l":0.89854,"c":0.89891},
{"i":224,"o":0.89891,"h":0.89927,"l":0.89815,"c":0.8986},
{"i":225,"o":0.8986,"h":0.89906,"l":0.89836,"c":0.89875},
{"i":226,"o":0.89875,"h":0.89891,"l":0.89708,"c":0.89739},
{"i":227,"o":0.89739,"h":0.89799,"l":0.89617,"c":0.89647},
{"i":228,"o":0.89647,"h":0.89723,"l":0.89556,"c":0.89693},
{"i":229,"o":0.89693,"h":0.89739,"l":0.89511,"c":0.89541},
{"i":230,"o":0.89541,"h":0.89663,"l":0.89495,"c":0.89641},
{"i":231,"o":0.89641,"h":0.89754,"l":0.89617,"c":0.89723},
{"i":232,"o":0.89723,"h":0.89769,"l":0.89587,"c":0.89617},
{"i":233,"o":0.89617,"h":0.89693,"l":0.89541,"c":0.89663},
{"i":234,"o":0.89663,"h":0.89708,"l":0.89556,"c":0.89587},
{"i":235,"o":0.89587,"h":0.89678,"l":0.89571,"c":0.89647},
{"i":236,"o":0.89647,"h":0.89708,"l":0.89541,"c":0.89562},
{"i":237,"o":0.89562,"h":0.89647,"l":0.89526,"c":0.89617},
{"i":238,"o":0.89623,"h":0.89663,"l":0.89511,"c":0.89532},
{"i":239,"o":0.89532,"h":0.89602,"l":0.89465,"c":0.89587},
{"i":240,"o":0.89587,"h":0.89678,"l":0.89556,"c":0.89647},
{"i":241,"o":0.89647,"h":0.89663,"l":0.89374,"c":0.89489},
{"i":242,"o":0.89489,"h":0.89617,"l":0.89465,"c":0.89593},
{"i":243,"o":0.89593,"h":0.89693,"l":0.89556,"c":0.89678},
{"i":244,"o":0.89678,"h":0.89739,"l":0.89617,"c":0.89647},
{"i":245,"o":0.89647,"h":0.89769,"l":0.89632,"c":0.89745},
{"i":246,"o":0.89745,"h":0.89815,"l":0.89678,"c":0.89702},
{"i":247,"o":0.89702,"h":0.89815,"l":0.89684,"c":0.89793},
{"i":248,"o":0.89793,"h":0.89845,"l":0.89739,"c":0.89769},
{"i":249,"o":0.89769,"h":0.89891,"l":0.89754,"c":0.89866},
{"i":250,"o":0.89866,"h":0.89915,"l":0.89815,"c":0.89845},
{"i":251,"o":0.89845,"h":0.89927,"l":0.89824,"c":0.89906},
{"i":252,"o":0.89906,"h":0.89951,"l":0.89845,"c":0.89866},
{"i":253,"o":0.89866,"h":0.89936,"l":0.89854,"c":0.89915},
{"i":254,"o":0.89915,"h":0.89982,"l":0.89875,"c":0.89945},
{"i":255,"o":0.89945,"h":0.90088,"l":0.89927,"c":0.90073},
{"i":256,"o":0.90073,"h":0.90423,"l":0.90058,"c":0.90392},
{"i":257,"o":0.90392,"h":0.90444,"l":0.90301,"c":0.90407},
{"i":258,"o":0.90407,"h":0.90432,"l":0.90286,"c":0.90332},
{"i":259,"o":0.90332,"h":0.90392,"l":0.9024,"c":0.90362},
{"i":260,"o":0.90362,"h":0.90407,"l":0.90301,"c":0.90316},
{"i":261,"o":0.90316,"h":0.90392,"l":0.9021,"c":0.90256},
{"i":262,"o":0.90256,"h":0.90347,"l":0.90195,"c":0.90301},
{"i":263,"o":0.90301,"h":0.90362,"l":0.90134,"c":0.90164},
{"i":264,"o":0.90164,"h":0.90286,"l":0.90149,"c":0.90256},
{"i":265,"o":0.90256,"h":0.90347,"l":0.90195,"c":0.90316},
{"i":266,"o":0.90316,"h":0.90353,"l":0.9024,"c":0.90271},
{"i":267,"o":0.90271,"h":0.90316,"l":0.9014,"c":0.90179},
{"i":268,"o":0.90179,"h":0.90301,"l":0.90164,"c":0.90286},
{"i":269,"o":0.90286,"h":0.90332,"l":0.9021,"c":0.9024},
{"i":270,"o":0.9024,"h":0.90316,"l":0.90134,"c":0.90164},
{"i":271,"o":0.90164,"h":0.90286,"l":0.90149,"c":0.90271},
{"i":272,"o":0.90271,"h":0.90301,"l":0.90195,"c":0.90219},
{"i":273,"o":0.90219,"h":0.90332,"l":0.90201,"c":0.90301},
{"i":274,"o":0.90301,"h":0.90347,"l":0.90225,"c":0.90256},
{"i":275,"o":0.90256,"h":0.90286,"l":0.90119,"c":0.90149},
{"i":276,"o":0.90149,"h":0.9024,"l":0.90134,"c":0.90225},
{"i":277,"o":0.90225,"h":0.90316,"l":0.90195,"c":0.90286},
{"i":278,"o":0.90286,"h":0.90332,"l":0.90164,"c":0.90189},
{"i":279,"o":0.90189,"h":0.90271,"l":0.90158,"c":0.90256},
{"i":280,"o":0.90256,"h":0.90301,"l":0.90179,"c":0.9021},
{"i":281,"o":0.9021,"h":0.90316,"l":0.90195,"c":0.90292},
{"i":282,"o":0.90292,"h":0.90332,"l":0.9021,"c":0.9024},
{"i":283,"o":0.9024,"h":0.90301,"l":0.90164,"c":0.90195},
{"i":284,"o":0.90195,"h":0.90286,"l":0.90179,"c":0.90262},
{"i":285,"o":0.90262,"h":0.90301,"l":0.90134,"c":0.90149},
{"i":286,"o":0.90149,"h":0.9021,"l":0.90058,"c":0.90088},
{"i":287,"o":0.90088,"h":0.90134,"l":0.89875,"c":0.89906},
{"i":288,"o":0.89906,"h":0.89967,"l":0.89781,"c":0.89936},
{"i":289,"o":0.89936,"h":0.90027,"l":0.89906,"c":0.90012},
{"i":290,"o":0.90012,"h":0.90103,"l":0.89982,"c":0.90079},
{"i":291,"o":0.90079,"h":0.90164,"l":0.90043,"c":0.90134},
{"i":292,"o":0.90134,"h":0.9021,"l":0.90097,"c":0.90189},
{"i":293,"o":0.90189,"h":0.90231,"l":0.90088,"c":0.90119},
{"i":294,"o":0.90119,"h":0.90149,"l":0.90012,"c":0.90037},
{"i":295,"o":0.90037,"h":0.90097,"l":0.89982,"c":0.90006},
{"i":296,"o":0.90006,"h":0.90043,"l":0.89927,"c":0.89951},
{"i":297,"o":0.89951,"h":0.90012,"l":0.8986,"c":0.89875},
{"i":298,"o":0.89875,"h":0.89921,"l":0.89799,"c":0.8983},
{"i":299,"o":0.8983,"h":0.89875,"l":0.89708,"c":0.89739},
{"i":300,"o":0.89739,"h":0.89845,"l":0.89702,"c":0.89815},
{"i":301,"o":0.89815,"h":0.8983,"l":0.89693,"c":0.89723},
{"i":302,"o":0.89723,"h":0.89754,"l":0.89647,"c":0.89678},
{"i":303,"o":0.89678,"h":0.89739,"l":0.89641,"c":0.89723},
{"i":304,"o":0.89723,"h":0.89745,"l":0.89602,"c":0.89623},
{"i":305,"o":0.89623,"h":0.89693,"l":0.89587,"c":0.89663},
{"i":306,"o":0.89663,"h":0.89702,"l":0.89556,"c":0.89571},
{"i":307,"o":0.89571,"h":0.89678,"l":0.89541,"c":0.89647},
{"i":308,"o":0.89647,"h":0.89693,"l":0.89602,"c":0.89623},
{"i":309,"o":0.89623,"h":0.89678,"l":0.8955,"c":0.89581},
{"i":310,"o":0.89581,"h":0.89617,"l":0.89374,"c":0.89404},
{"i":311,"o":0.89404,"h":0.89465,"l":0.89252,"c":0.89313},
{"i":312,"o":0.89313,"h":0.89374,"l":0.89176,"c":0.89207},
{"i":313,"o":0.89207,"h":0.89343,"l":0.89161,"c":0.89313},
{"i":314,"o":0.89313,"h":0.89389,"l":0.89267,"c":0.89359},
{"i":315,"o":0.89359,"h":0.89389,"l":0.89237,"c":0.89267},
{"i":316,"o":0.89267,"h":0.89343,"l":0.89207,"c":0.89313},
{"i":317,"o":0.89313,"h":0.89359,"l":0.89191,"c":0.89228},
{"i":318,"o":0.89228,"h":0.89282,"l":0.891,"c":0.89131},
{"i":319,"o":0.89131,"h":0.89191,"l":0.89039,"c":0.89161},
{"i":320,"o":0.89161,"h":0.89252,"l":0.89115,"c":0.89222},
{"i":321,"o":0.89222,"h":0.89298,"l":0.89176,"c":0.89267},
{"i":322,"o":0.89267,"h":0.89313,"l":0.89112,"c":0.89191},
{"i":323,"o":0.89191,"h":0.89298,"l":0.89146,"c":0.89282},
{"i":324,"o":0.89282,"h":0.89435,"l":0.89252,"c":0.89404},
{"i":325,"o":0.89404,"h":0.89587,"l":0.89374,"c":0.89556},
{"i":326,"o":0.89556,"h":0.89617,"l":0.89495,"c":0.89587},
{"i":327,"o":0.89587,"h":0.89678,"l":0.89556,"c":0.89647},
{"i":328,"o":0.89647,"h":0.89684,"l":0.89571,"c":0.89593},
{"i":329,"o":0.89593,"h":0.89663,"l":0.89556,"c":0.89632},
{"i":330,"o":0.89632,"h":0.89678,"l":0.89587,"c":0.89602},
{"i":331,"o":0.89602,"h":0.89663,"l":0.89541,"c":0.89647},
{"i":332,"o":0.89647,"h":0.89693,"l":0.89602,"c":0.89617},
{"i":333,"o":0.89617,"h":0.89678,"l":0.89556,"c":0.89587},
{"i":334,"o":0.89587,"h":0.89663,"l":0.89556,"c":0.89641},
{"i":335,"o":0.89641,"h":0.89693,"l":0.89587,"c":0.89611},
{"i":336,"o":0.89611,"h":0.89739,"l":0.89593,"c":0.89693},
{"i":337,"o":0.89693,"h":0.89869,"l":0.89663,"c":0.89754},
{"i":338,"o":0.89754,"h":0.89799,"l":0.89571,"c":0.89602},
{"i":339,"o":0.89602,"h":0.89678,"l":0.89435,"c":0.89556},
{"i":340,"o":0.89556,"h":0.89647,"l":0.89541,"c":0.89617},
{"i":341,"o":0.89617,"h":0.89663,"l":0.89556,"c":0.89587},
{"i":342,"o":0.89587,"h":0.89647,"l":0.89526,"c":0.89632},
{"i":343,"o":0.89632,"h":0.89678,"l":0.89587,"c":0.89602},
{"i":344,"o":0.89602,"h":0.89663,"l":0.89556,"c":0.89647},
{"i":345,"o":0.89647,"h":0.89678,"l":0.89541,"c":0.89571},
{"i":346,"o":0.89571,"h":0.89617,"l":0.89541,"c":0.89593},
{"i":347,"o":0.89593,"h":0.89623,"l":0.8955,"c":0.89562},
{"i":348,"o":0.89562,"h":0.89602,"l":0.89541,"c":0.89587},
{"i":349,"o":0.89587,"h":0.89602,"l":0.89511,"c":0.89532},
{"i":350,"o":0.89532,"h":0.89556,"l":0.89374,"c":0.89404},
{"i":351,"o":0.89404,"h":0.89435,"l":0.89237,"c":0.89282},
{"i":352,"o":0.89282,"h":0.89374,"l":0.89252,"c":0.89343},
{"i":353,"o":0.89343,"h":0.89389,"l":0.89191,"c":0.89237},
{"i":354,"o":0.89237,"h":0.89313,"l":0.89191,"c":0.89282},
{"i":355,"o":0.89282,"h":0.89328,"l":0.89146,"c":0.89191},
{"i":356,"o":0.89191,"h":0.89252,"l":0.891,"c":0.89115},
{"i":357,"o":0.89115,"h":0.89176,"l":0.89009,"c":0.8907},
{"i":358,"o":0.89055,"h":0.891,"l":0.88948,"c":0.88978},
{"i":359,"o":0.88978,"h":0.8907,"l":0.88918,"c":0.89024},
{"i":360,"o":0.89024,"h":0.89055,"l":0.88896,"c":0.88948},
{"i":361,"o":0.88948,"h":0.8907,"l":0.88933,"c":0.89039},
{"i":362,"o":0.89039,"h":0.89115,"l":0.88978,"c":0.89085},
{"i":363,"o":0.89085,"h":0.89176,"l":0.8907,"c":0.89161},
{"i":364,"o":0.89161,"h":0.89207,"l":0.891,"c":0.89131},
{"i":365,"o":0.89131,"h":0.89191,"l":0.8907,"c":0.89176},
{"i":366,"o":0.89176,"h":0.89237,"l":0.89161,"c":0.89222},
{"i":367,"o":0.89222,"h":0.89267,"l":0.89131,"c":0.89155},
{"i":368,"o":0.89155,"h":0.89252,"l":0.89115,"c":0.89228},
{"i":369,"o":0.89228,"h":0.89282,"l":0.89191,"c":0.89252},
{"i":370,"o":0.89252,"h":0.89313,"l":0.89146,"c":0.89176},
{"i":371,"o":0.89176,"h":0.89237,"l":0.891,"c":0.89146},
{"i":372,"o":0.89146,"h":0.89237,"l":0.89131,"c":0.89222},
{"i":373,"o":0.89222,"h":0.89252,"l":0.89146,"c":0.89167},
{"i":374,"o":0.89167,"h":0.89252,"l":0.89155,"c":0.89237},
{"i":375,"o":0.89237,"h":0.89282,"l":0.89191,"c":0.89267},
{"i":376,"o":0.89267,"h":0.89313,"l":0.89237,"c":0.89298},
{"i":377,"o":0.89298,"h":0.89328,"l":0.89222,"c":0.89252},
{"i":378,"o":0.89252,"h":0.89313,"l":0.89191,"c":0.89282},
{"i":379,"o":0.89282,"h":0.89359,"l":0.89252,"c":0.89328},
{"i":380,"o":0.89328,"h":0.89404,"l":0.89237,"c":0.89267},
{"i":381,"o":0.89267,"h":0.89343,"l":0.89222,"c":0.89313},
{"i":382,"o":0.89313,"h":0.89435,"l":0.89282,"c":0.89389},
{"i":383,"o":0.89389,"h":0.89465,"l":0.89252,"c":0.89298},
{"i":384,"o":0.89298,"h":0.89389,"l":0.89191,"c":0.89343},
{"i":385,"o":0.89343,"h":0.89374,"l":0.89131,"c":0.89176},
{"i":386,"o":0.89176,"h":0.89313,"l":0.891,"c":0.89282},
{"i":387,"o":0.89282,"h":0.89602,"l":0.89237,"c":0.89343},
{"i":388,"o":0.89343,"h":0.89556,"l":0.89191,"c":0.89282},
{"i":389,"o":0.89282,"h":0.89465,"l":0.89267,"c":0.89389},
{"i":390,"o":0.89389,"h":0.89495,"l":0.89343,"c":0.89356},
{"i":391,"o":0.89356,"h":0.89476,"l":0.89356,"c":0.89367}
],
"arrows": [
{"i":8,"p":0.89036,"d":"u"},{"i":73,"p":0.8924,"d":"u"},{"i":128,"p":0.90265,"d":"u"},{"i":169,"p":0.89909,"d":"u"},
{"i":211,"p":0.90249,"d":"n"},{"i":257,"p":0.90499,"d":"n"},{"i":293,"p":0.90256,"d":"n"},{"i":288,"p":0.89766,"d":"u"},
{"i":322,"p":0.89091,"d":"u"},{"i":387,"p":0.89626,"d":"n"}
],
"notes": [
{"t":"Copyright, 4 March 2014","i":359.4,"p":0.90008},
{"t":"http://deas88.livejournal.com/","i":359.4,"p":0.89948}
],
"plabels": [
{"p":0.90798,"c":"#FF0000"},{"p":0.90477,"c":"#FF0000"},{"p":0.8988,"c":"#FF0000"},{"p":0.88893,"c":"#FF0000"},{"p":0.89367,"c":"#000000"}
],
"tlabels": [
{"i":145,"t":"2014.02.18 03:00"},{"i":257,"t":"2014.02.24 19:00"}
]
},
"layer": [
{"data": {"name": "boxes"}, "mark": {"type": "rect"},
 "encoding": {
  "x": {"field": "x1", "type": "quantitative", "scale": {"domain": [-0.375, 467.375], "nice": false, "zero": false},
        "axis": {"orient": "bottom", "title": null, "values": [0,16,32,48,64,80,96,112,128,144,160,176,192,208,224,240,256,272,288,304,320,336,352,368,384],
                 "labelExpr": "['10 Feb 2014','10 Feb 18:00','11 Feb 10:00','12 Feb 02:00','12 Feb 18:00','13 Feb 10:00','14 Feb 02:00','14 Feb 18:00','17 Feb 10:00','18 Feb 02:00','18 Feb 18:00','19 Feb 10:00','20 Feb 02:00','20 Feb 18:00','21 Feb 10:00','24 Feb 02:00','24 Feb 18:00','25 Feb 10:00','26 Feb 02:00','26 Feb 18:00','27 Feb 10:00','28 Feb 02:00','28 Feb 18:00','3 Mar 10:00','4 Mar 02:00'][round(datum.value/16)]",
                 "labelAlign": "left", "labelBaseline": "top", "labelPadding": 2, "labelOverlap": false, "labelFlush": false}},
  "x2": {"field": "x2"},
  "y": {"field": "p1", "type": "quantitative", "scale": {"domain": [0.888355, 0.908842], "nice": false, "zero": false},
        "axis": {"orient": "right", "title": null, "values": [0.90855,0.9077,0.90685,0.906,0.9052,0.90435,0.9035,0.9027,0.90185,0.901,0.90015,0.89935,0.8985,0.89765,0.89685,0.896,0.89515,0.8943,0.8935,0.89265,0.8918,0.891,0.89015,0.8893,0.88845],
                 "format": ".5f", "labelPadding": 3, "labelOverlap": false, "labelFlush": false, "labelBaseline": "middle"}},
  "y2": {"field": "p2"},
  "color": {"field": "c", "type": "nominal", "scale": null}
 }},
{"data": {"name": "vp1"}, "mark": {"type": "rule", "strokeWidth": 1},
 "encoding": {
  "x": {"field": "e", "type": "quantitative", "axis": null}, "x2": {"datum": 145},
  "y": {"field": "p", "type": "quantitative", "axis": null},
  "color": {"field": "k", "type": "nominal", "scale": {"domain": ["d","l","r"], "range": ["#808080","#C8C8C8","#FF0000"]}, "legend": null}}},
{"data": {"name": "vp2"}, "mark": {"type": "rule", "strokeWidth": 1},
 "encoding": {
  "x": {"field": "e", "type": "quantitative", "axis": null}, "x2": {"datum": 257},
  "y": {"field": "p", "type": "quantitative", "axis": null},
  "color": {"field": "k", "type": "nominal", "scale": {"domain": ["d","l","r"], "range": ["#808080","#C8C8C8","#FF0000"]}, "legend": null}}},
{"data": {"name": "vp3"}, "mark": {"type": "rule", "strokeWidth": 1},
 "encoding": {
  "x": {"field": "e", "type": "quantitative", "axis": null}, "x2": {"datum": 467.375},
  "y": {"field": "p", "type": "quantitative", "axis": null},
  "color": {"field": "k", "type": "nominal", "scale": {"domain": ["d","l","r"], "range": ["#808080","#C8C8C8","#FF0000"]}, "legend": null}}},
{"data": {"name": "hlines"}, "mark": {"type": "rule", "strokeWidth": 1},
 "encoding": {"y": {"field": "p", "type": "quantitative", "axis": null}, "color": {"field": "c", "type": "nominal", "scale": null}}},
{"data": {"name": "vlines"}, "mark": {"type": "rule", "strokeWidth": 1, "color": "#FF0000"},
 "encoding": {"x": {"field": "i", "type": "quantitative", "axis": null}}},
{"data": {"name": "candles"}, "mark": {"type": "rule", "strokeWidth": 1, "color": "#000000"},
 "encoding": {"x": {"field": "i", "type": "quantitative", "axis": null}, "y": {"field": "l", "type": "quantitative", "axis": null}, "y2": {"field": "h"}}},
{"data": {"name": "candles"}, "mark": {"type": "bar", "width": 2, "stroke": "#000000", "strokeWidth": 1},
 "encoding": {"x": {"field": "i", "type": "quantitative", "axis": null}, "y": {"field": "o", "type": "quantitative", "axis": null}, "y2": {"field": "c"},
  "fill": {"condition": {"test": "datum.c >= datum.o", "value": "#FFFFFF"}, "value": "#000000"}}},
{"data": {"name": "arrows"}, "mark": {"type": "point", "filled": true, "fill": "#FFFFFF", "stroke": "#FF0000", "strokeWidth": 1, "size": 100, "opacity": 1},
 "encoding": {"x": {"field": "i", "type": "quantitative", "axis": null}, "y": {"field": "p", "type": "quantitative", "axis": null},
  "shape": {"field": "d", "type": "nominal", "scale": {"domain": ["u","n"], "range": ["M0,-1L1,0L0.4,0L0.4,1L-0.4,1L-0.4,0L-1,0Z","M0,1L1,0L0.4,0L0.4,-1L-0.4,-1L-0.4,0L-1,0Z"]}, "legend": null}}},
{"data": {"name": "notes"}, "mark": {"type": "text", "color": "#FF0000", "fontSize": 15.4, "align": "center", "baseline": "middle", "font": "Liberation Sans"},
 "encoding": {"x": {"field": "i", "type": "quantitative", "axis": null}, "y": {"field": "p", "type": "quantitative", "axis": null}, "text": {"field": "t"}}},
{"data": {"values": [{"t": "VP GMT +2", "i": 458.1, "p": 0.90715}]}, "mark": {"type": "text", "color": "#808080", "fontSize": 10, "align": "center", "baseline": "middle"},
 "encoding": {"x": {"field": "i", "type": "quantitative", "axis": null}, "y": {"field": "p", "type": "quantitative", "axis": null}, "text": {"field": "t"}}},
{"data": {"values": [{"t": "AUDUSD,H1  0.89356 0.89476 0.89356 0.89367", "i": 3.7, "p": 0.90863}]}, "mark": {"type": "text", "color": "#000000", "fontSize": 9.3, "align": "left", "baseline": "middle"},
 "encoding": {"x": {"field": "i", "type": "quantitative", "axis": null}, "y": {"field": "p", "type": "quantitative", "axis": null}, "text": {"field": "t"}}},
{"data": {"values": [{"i": 1.2, "p": 0.90863}]}, "mark": {"type": "point", "shape": "triangle-down", "filled": true, "color": "#000000", "size": 22, "opacity": 1},
 "encoding": {"x": {"field": "i", "type": "quantitative", "axis": null}, "y": {"field": "p", "type": "quantitative", "axis": null}}},
{"data": {"name": "plabels"}, "mark": {"type": "point", "filled": true, "opacity": 1, "size": 1764, "shape": "M-1,-0.25L1,-0.25L1,0.25L-1,0.25Z"},
 "encoding": {"x": {"datum": 473, "type": "quantitative", "axis": null}, "y": {"field": "p", "type": "quantitative", "axis": null}, "color": {"field": "c", "type": "nominal", "scale": null}}},
{"data": {"name": "plabels"}, "mark": {"type": "text", "color": "#FFFFFF", "fontSize": 9, "align": "center", "baseline": "middle"},
 "encoding": {"x": {"datum": 473, "type": "quantitative", "axis": null}, "y": {"field": "p", "type": "quantitative", "axis": null}, "text": {"field": "p", "type": "quantitative", "format": ".5f"}}},
{"data": {"name": "tlabels"}, "mark": {"type": "point", "filled": true, "opacity": 1, "size": 6400, "color": "#FF0000", "shape": "M-1,-0.15L1,-0.15L1,0.15L-1,0.15Z"},
 "encoding": {"x": {"field": "i", "type": "quantitative", "axis": null}, "y": {"datum": 0.888132, "type": "quantitative", "axis": null}}},
{"data": {"name": "tlabels"}, "mark": {"type": "text", "color": "#FFFFFF", "fontSize": 9, "align": "center", "baseline": "middle"},
 "encoding": {"x": {"field": "i", "type": "quantitative", "axis": null}, "y": {"datum": 0.888132, "type": "quantitative", "axis": null}, "text": {"field": "t"}}}
]
}
